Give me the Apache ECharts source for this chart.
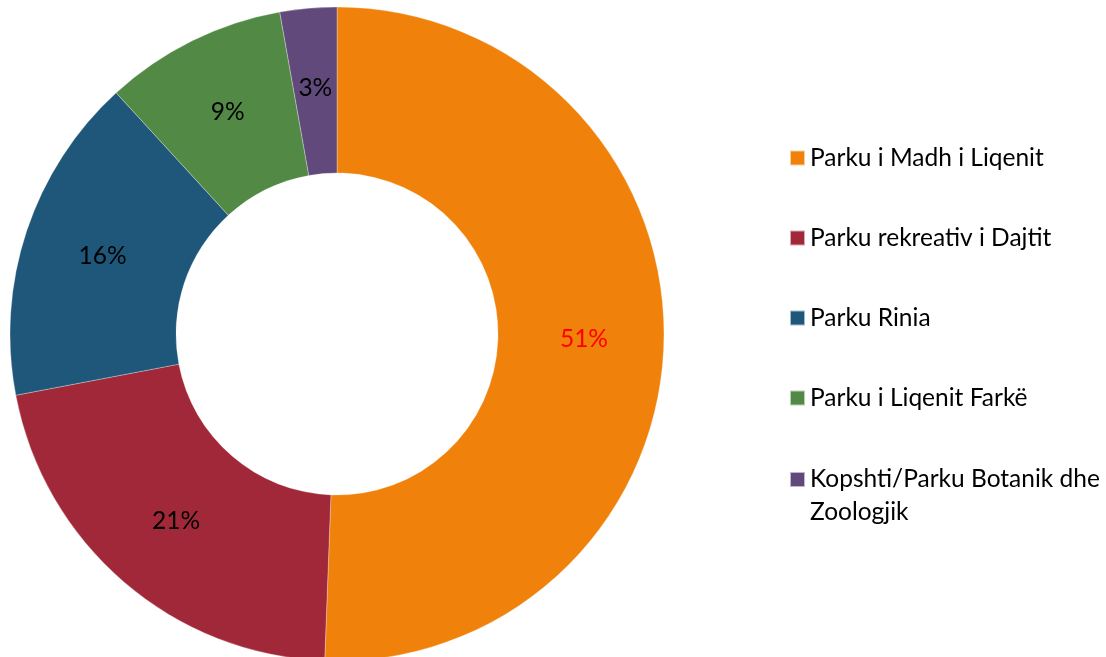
<!DOCTYPE html>
<html>
<head>
<meta charset="utf-8">
<script src="https://cdn.jsdelivr.net/npm/echarts@6/dist/echarts.min.js"></script>
<style>
  html, body { margin: 0; padding: 0; background: #fff; }
  #chart { width: 1106px; height: 657px; }
</style>
</head>
<body>
<div id="chart"></div>
<script>
// parqet dhe perqindjet (lexuar nga grafiku)
const parks = ['Parku i Madh i Liqenit', 'Parku rekreativ i Dajtit', 'Parku Rinia', 'Parku i Liqenit Farkë', 'Kopshti/Parku Botanik dhe Zoologjik']
const shares = [50.6, 21.4, 16.2, 9.0, 2.8]
const colors = ['#F0820B', '#A02838', '#1F577A', '#528A45', '#614A7B']
const labelColors = ['#FF0000', '#000', '#000', '#000', '#000']

const font = 'Lato, "Open Sans", sans-serif'
const chart = echarts.init(document.getElementById('chart'))

const option = {
  animation: false,
  color: colors,
  legend: [
    {
      orient: 'vertical',
      left: 789,
      top: 143,
      padding: 0,
      data: parks.slice(0, 4),
      icon: 'rect',
      itemWidth: 15,
      itemHeight: 15,
      itemGap: 50,
      selectedMode: false,
      textStyle: { color: '#000', fontSize: 24.5, fontFamily: font, lineHeight: 30 }
    },
    {
      orient: 'vertical',
      left: 789,
      top: 430,
      padding: 0,
      data: parks.slice(4),
      icon: 'rect',
      itemWidth: 15,
      itemHeight: 15,
      selectedMode: false,
      // rreshti bosh lart mban ikonen ne nivel me rreshtin e pare
      formatter: name => '\n' + name.replace(' Zoologjik', '\nZoologjik'),
      textStyle: { color: '#000', fontSize: 24.5, fontFamily: font, lineHeight: 33 }
    }
  ],
  series: [
    {
      type: 'pie',
      center: [337, 334],
      radius: [161, 327],
      startAngle: 90,
      clockwise: true,
      avoidLabelOverlap: false,
      itemStyle: { borderColor: 'rgba(255,255,255,0.6)', borderWidth: 0.5 },
      label: {
        show: true,
        position: 'inside',
        fontSize: 24.5,
        fontFamily: font,
        formatter: p => Math.round(p.value) + '%'
      },
      labelLine: { show: false },
      data: parks.map((name, i) => ({
        name,
        value: shares[i],
        label: { color: labelColors[i] }
      }))
    }
  ]
}

chart.setOption(option)
</script>
</body>
</html>
